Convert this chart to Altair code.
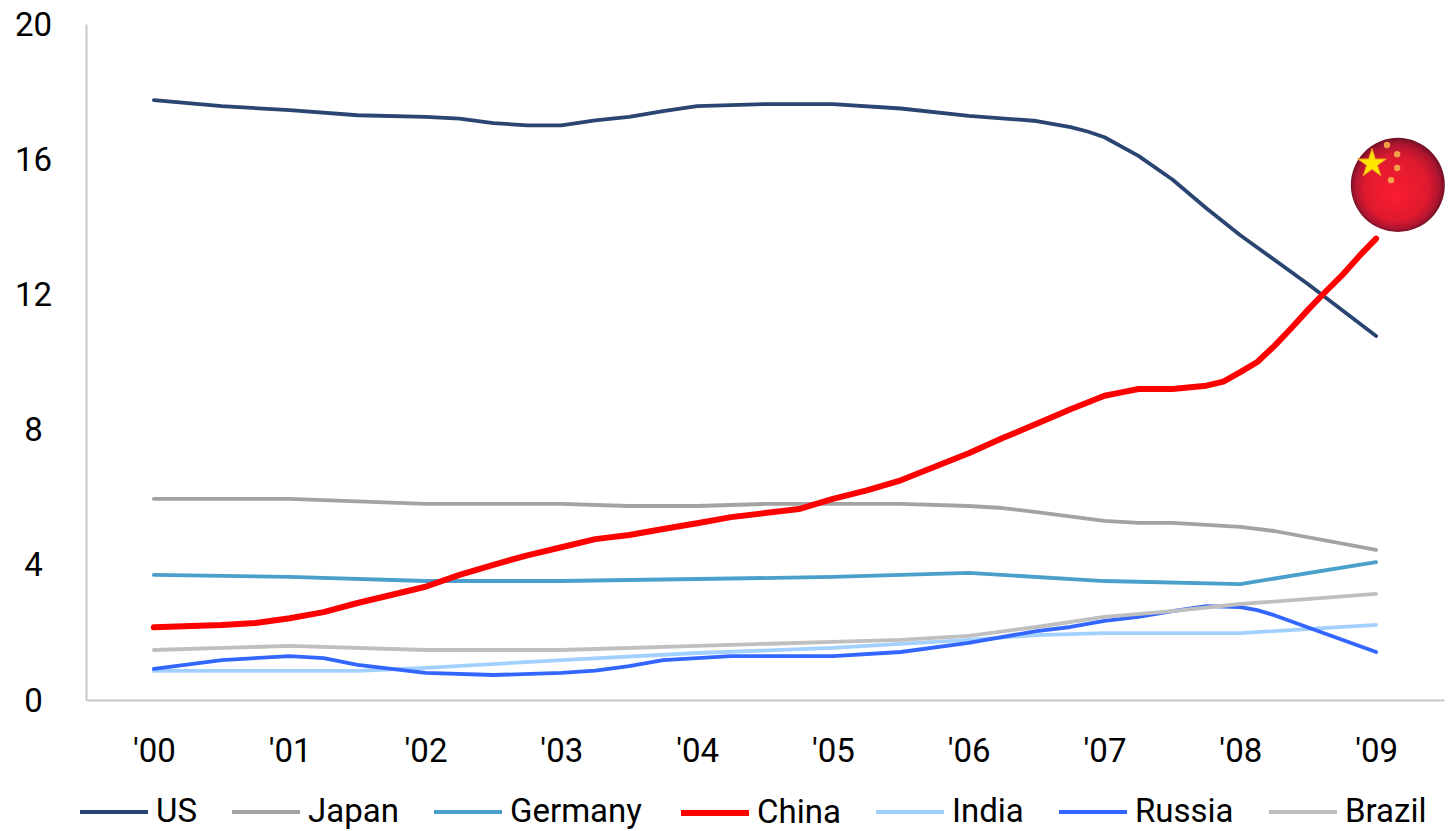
import altair as alt
import pandas as pd

FONT = "Roboto"

names = ["US", "Japan", "Germany", "China", "India", "Russia", "Brazil"]
colors = ["#2b4572", "#a3a3a3", "#4a9fcb", "#ff0000", "#a3d1ff", "#3366ff", "#bfbfbf"]
widths = [3.8, 3.8, 3.8, 6, 3.8, 3.8, 3.8]

us_x = [2000, 2000.5, 2001, 2001.5, 2002, 2002.25, 2002.5, 2002.75, 2003, 2003.25, 2003.5, 2003.75,
        2004, 2004.5, 2005, 2005.5, 2006, 2006.5, 2006.75, 2006.875, 2007, 2007.25, 2007.5, 2007.75,
        2008, 2008.5, 2009]
us_y = [17.75, 17.57, 17.45, 17.3, 17.25, 17.2, 17.07, 17.0, 17.0, 17.15, 17.25, 17.42,
        17.57, 17.63, 17.63, 17.5, 17.28, 17.13, 16.95, 16.82, 16.65, 16.1, 15.4, 14.55,
        13.75, 12.3, 10.77]

japan_x = [2000, 2001, 2002, 2003, 2003.5, 2004, 2004.5, 2005, 2005.5, 2006, 2006.25, 2006.5,
           2007, 2007.25, 2007.5, 2008, 2008.25, 2009]
japan_y = [5.95, 5.95, 5.8, 5.8, 5.74, 5.74, 5.8, 5.8, 5.8, 5.74, 5.68, 5.56,
           5.3, 5.24, 5.24, 5.12, 5.0, 4.44]

germany_x = [2000, 2001, 2002, 2003, 2004, 2005, 2006, 2007, 2008, 2009]
germany_y = [3.7, 3.64, 3.52, 3.52, 3.58, 3.64, 3.76, 3.52, 3.43, 4.08]

china_x = [2000, 2000.5, 2000.75, 2001, 2001.25, 2001.5, 2002, 2002.25, 2002.5, 2002.75, 2003, 2003.25,
           2003.5, 2003.75, 2004, 2004.25, 2004.5, 2004.75, 2005, 2005.25, 2005.5, 2005.75, 2006,
           2006.25, 2006.5, 2006.75, 2007, 2007.125, 2007.25, 2007.5, 2007.75, 2007.875, 2008,
           2008.125, 2008.25, 2008.375, 2008.5, 2008.625, 2008.75, 2008.875, 2009]
china_y = [2.15, 2.22, 2.28, 2.42, 2.6, 2.87, 3.35, 3.7, 4.0, 4.28, 4.52, 4.76,
           4.88, 5.06, 5.23, 5.41, 5.53, 5.65, 5.95, 6.2, 6.5, 6.9, 7.3,
           7.75, 8.17, 8.6, 9.0, 9.1, 9.2, 9.2, 9.3, 9.42, 9.7,
           10.0, 10.47, 11.0, 11.55, 12.07, 12.57, 13.13, 13.65]

india_x = [2000, 2001, 2001.5, 2002, 2003, 2004, 2005, 2006, 2006.5, 2007, 2008, 2009]
india_y = [0.86, 0.86, 0.86, 0.95, 1.18, 1.39, 1.54, 1.78, 1.92, 1.98, 1.98, 2.22]

russia_x = [2000, 2000.5, 2001, 2001.25, 2001.5, 2002, 2002.5, 2003, 2003.25, 2003.5, 2003.75,
            2004, 2004.25, 2005, 2005.5, 2006, 2006.5, 2006.75, 2007, 2007.25, 2007.5, 2007.75,
            2008, 2008.125, 2008.25, 2009]
russia_y = [0.92, 1.18, 1.3, 1.24, 1.04, 0.8, 0.74, 0.8, 0.87, 1.0, 1.18,
            1.24, 1.3, 1.3, 1.42, 1.69, 2.04, 2.16, 2.34, 2.46, 2.63, 2.78,
            2.75, 2.66, 2.51, 1.42]

brazil_x = [2000, 2001, 2002, 2003, 2004, 2005, 2005.5, 2006, 2006.5, 2007, 2007.5, 2008, 2009]
brazil_y = [1.48, 1.6, 1.48, 1.48, 1.6, 1.72, 1.78, 1.9, 2.16, 2.46, 2.63, 2.84, 3.14]

year_ticks = list(range(2000, 2010))
value_ticks = [0, 4, 8, 12, 16, 20]

# Badge beside the end of the China line, placed in data units.
badge_x = [2009.16]
badge_y = [15.24]
big_star_x = [2008.97]
big_star_y = [15.87]
small_star_x = [2009.08, 2009.155, 2009.155, 2009.11]
small_star_y = [16.42, 16.15, 15.74, 15.38]
STAR = ("M0,-1 L0.225,-0.309 L0.951,-0.309 L0.363,0.118 L0.588,0.809 L0,0.382 "
        "L-0.588,0.809 L-0.363,0.118 L-0.951,-0.309 L-0.225,-0.309 Z")

series = [
    (names[0], us_x, us_y), (names[1], japan_x, japan_y), (names[2], germany_x, germany_y),
    (names[3], china_x, china_y), (names[4], india_x, india_y), (names[5], russia_x, russia_y),
    (names[6], brazil_x, brazil_y),
]
rows = []
for name, xs, ys in series:
    rows += [{"country": name, "year": x, "value": y} for x, y in zip(xs, ys)]
lines_df = pd.DataFrame(rows)

x_scale = alt.Scale(domain=[1999.5, 2009.5], nice=False, zero=False)
y_scale = alt.Scale(domain=[0, 20], nice=False)

lines = alt.Chart(lines_df).mark_line(strokeCap="round", strokeJoin="round", clip=False).encode(
    x=alt.X("year:Q", scale=x_scale, title=None, axis=alt.Axis(
        values=year_ticks, grid=False, ticks=False, labelFont=FONT, labelFontSize=33,
        labelColor="#000000", labelPadding=35, domainColor="#c8c8c8", domainWidth=2,
        labelExpr="\"'\" + substring(toString(datum.value), 2)", labelOverlap=False,
    )),
    y=alt.Y("value:Q", scale=y_scale, title=None, axis=alt.Axis(
        values=value_ticks, grid=False, ticks=False, labelFont=FONT, labelFontSize=33,
        labelColor="#000000", labelPadding=53, labelAlign="center", labelOffset=1,
        domainColor="#c8c8c8", domainWidth=2,
    )),
    color=alt.Color("country:N", sort=names, title=None,
                    scale=alt.Scale(domain=names, range=colors),
                    legend=alt.Legend(
                        orient="none", legendX=-9, legendY=752, direction="horizontal",
                        columns=7, gridAlign="none", symbolType="stroke", symbolSize=4624,
                        labelFont=FONT, labelFontSize=33, labelColor="#000000", labelOffset=5,
                        columnPadding=27, padding=0, symbolOpacity=1,
                    )),
    strokeWidth=alt.StrokeWidth("country:O", sort=names, title=None,
                                scale=alt.Scale(type="ordinal", domain=names, range=widths)),
    order=alt.Order("year:Q"),
)

badge_gradient = alt.RadialGradient(
    gradient="radial", x1=0.45, y1=0.62, r1=0.0, x2=0.5, y2=0.5, r2=0.52,
    stops=[
        alt.GradientStop(offset=0, color="#fb1c30"),
        alt.GradientStop(offset=0.65, color="#df1a2f"),
        alt.GradientStop(offset=0.86, color="#b01530"),
        alt.GradientStop(offset=1, color="#5c1020"),
    ],
)
badge = alt.Chart(pd.DataFrame({"year": badge_x, "value": badge_y})).mark_circle(
    size=8836, opacity=1, color=badge_gradient
).encode(x=alt.X("year:Q", scale=x_scale), y=alt.Y("value:Q", scale=y_scale))

big_star = alt.Chart(pd.DataFrame({"year": big_star_x, "value": big_star_y})).mark_point(
    shape=STAR, size=900, filled=True, opacity=1, color="#ffe600", stroke="#f09a20", strokeWidth=1
).encode(x=alt.X("year:Q", scale=x_scale), y=alt.Y("value:Q", scale=y_scale))

small_stars = alt.Chart(pd.DataFrame({"year": small_star_x, "value": small_star_y})).mark_circle(
    size=40, opacity=1, color="#f2a04c"
).encode(x=alt.X("year:Q", scale=x_scale), y=alt.Y("value:Q", scale=y_scale))

chart = alt.layer(lines, badge, small_stars, big_star).properties(
    width=1358, height=676, background="#ffffff", autosize="none",
    padding={"left": 86, "top": 24, "right": 5, "bottom": 130},
).configure_view(stroke=None)

chart.save("out.html", embed_options={"renderer": "svg", "actions": False})
